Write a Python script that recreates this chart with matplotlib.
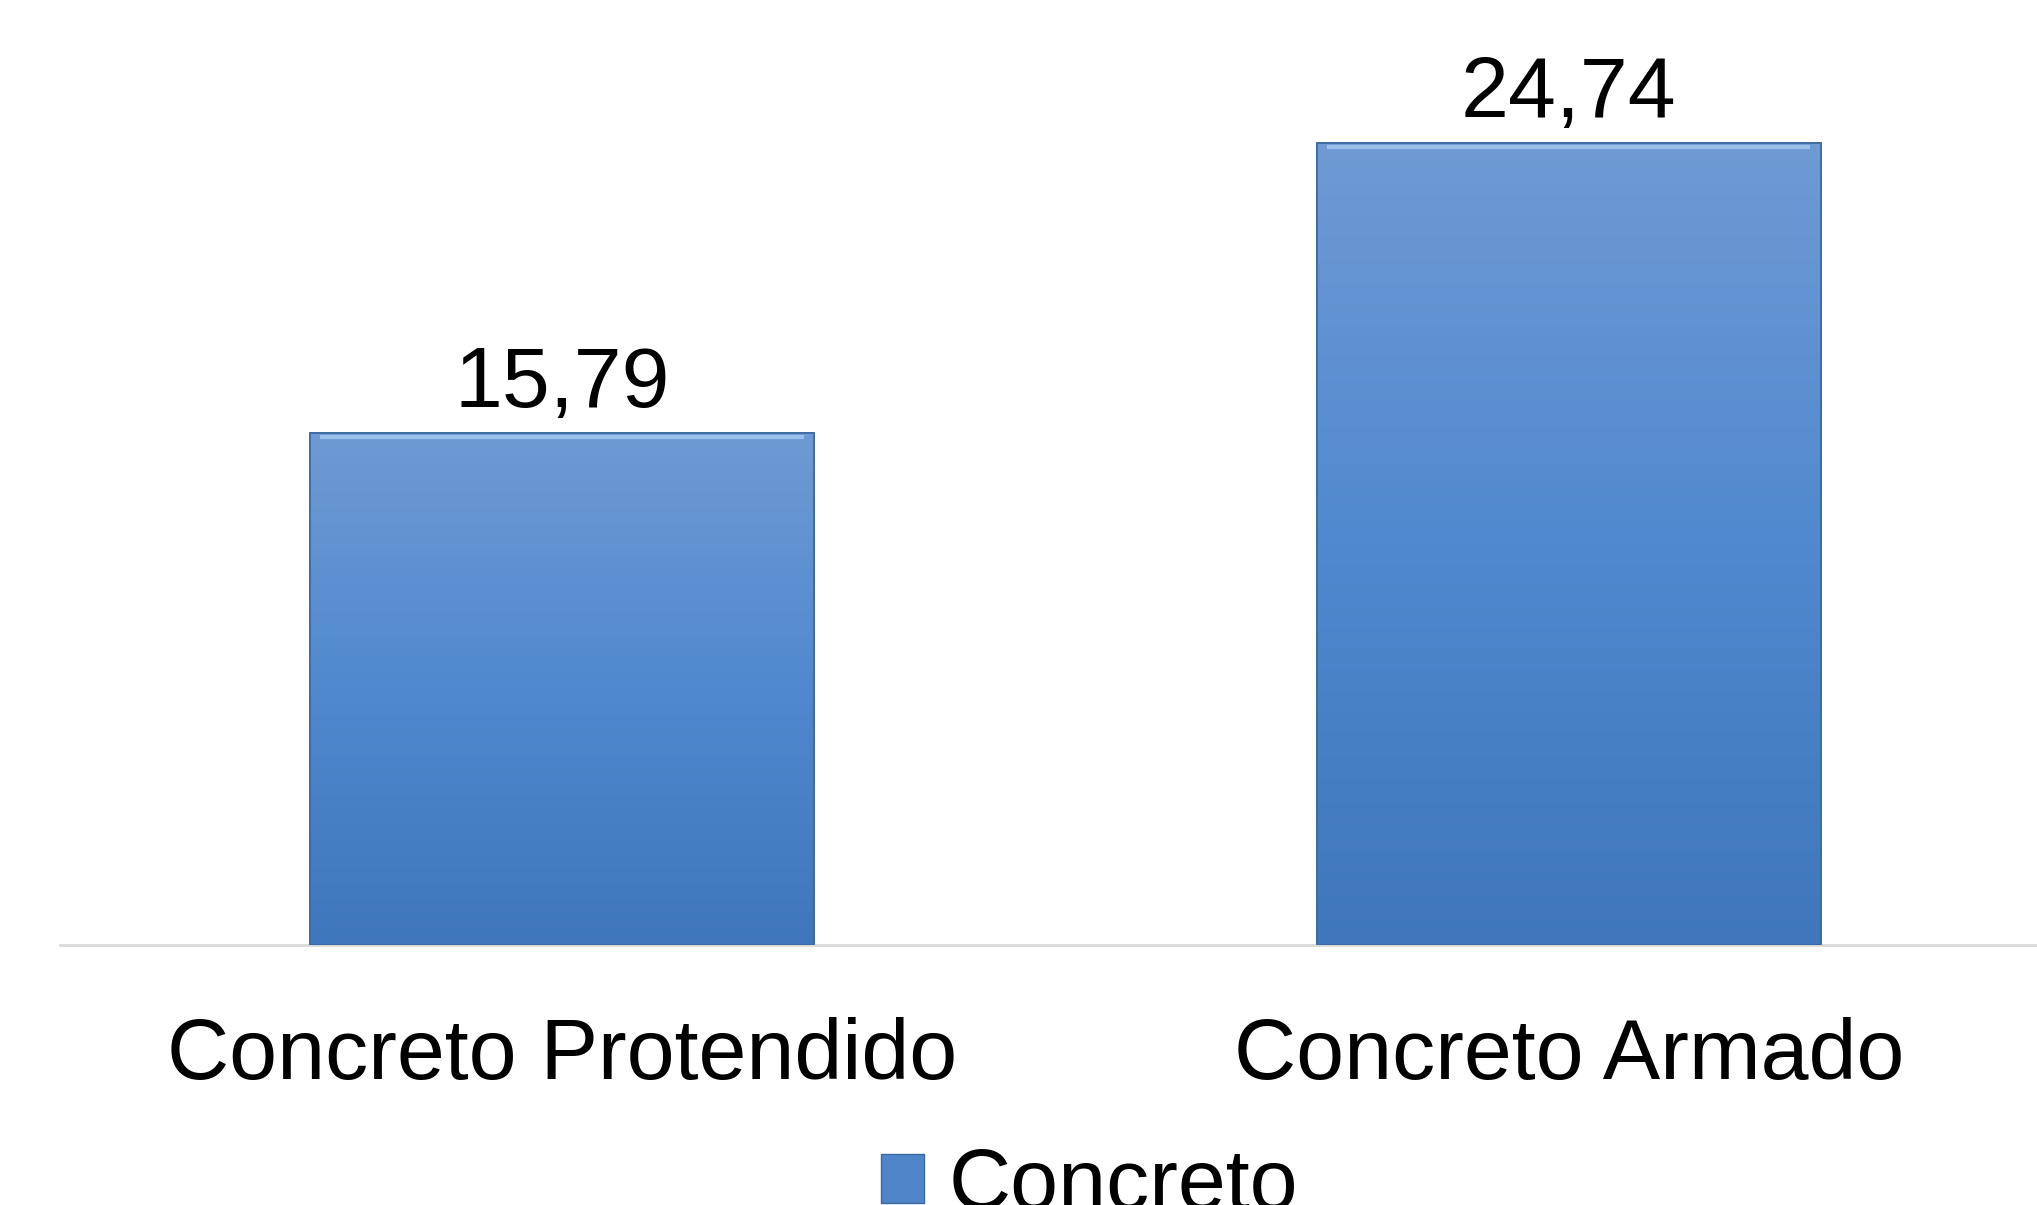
import matplotlib.pyplot as plt
import numpy as np
from matplotlib.patches import Rectangle
from matplotlib.colors import LinearSegmentedColormap

categorias = ['Concreto Protendido', 'Concreto Armado']
valores = [15.79, 24.74]
rotulos = ['15,79', '24,74']
serie = 'Concreto'

plt.rcParams['font.family'] = ['Liberation Sans', 'DejaVu Sans']

fig = plt.figure(figsize=(20.37, 12.05), dpi=100)
ax = fig.add_axes([60/2037, (1205-945)/1205, 1977/2037, 945/1205])

x = np.arange(len(categorias))
barras = ax.bar(x, valores, width=0.5, color='#4F86C9', edgecolor='#3A689F',
                linewidth=1.2, label=serie, zorder=2)

# degradê vertical nas barras
grad = np.linspace(0, 1, 256).reshape(-1, 1)
cmap = LinearSegmentedColormap.from_list('azul', ['#3F76BC', '#5089CF', '#6F9AD4'])
for b in barras:
    x0, w, h = b.get_x(), b.get_width(), b.get_height()
    im = ax.imshow(grad, extent=[x0, x0 + w, 0, h], origin='lower', cmap=cmap,
                   aspect='auto', zorder=3)
    im.set_clip_path(b)
    ax.add_patch(Rectangle((x0, 0), w, h, fill=False, edgecolor='#3A689F',
                           linewidth=1.2, zorder=4))
    ax.plot([x0 + 0.01, x0 + w - 0.01], [h - 0.12, h - 0.12], color='#9CC0EC',
            lw=3, zorder=4, solid_capstyle='butt')

for xi, v, r in zip(x, valores, rotulos):
    ax.text(xi, v + 0.8, r, ha='center', va='baseline', fontsize=62)

ax.set_xlim(-0.4985, 1.465)
ax.set_ylim(0, 945/32.43)
ax.set_xticks(x)
ax.set_xticklabels(categorias, fontsize=62)
ax.tick_params(axis='x', length=0, pad=52)
ax.set_yticks([])
for s in ['top', 'right', 'left']:
    ax.spines[s].set_visible(False)
ax.spines['bottom'].set_color('#D9D9D9')
ax.spines['bottom'].set_linewidth(2)

leg = fig.legend(handles=[Rectangle((0, 0), 1, 1, facecolor='#4F86C9', edgecolor='#3A689F')],
                 labels=[serie], loc='upper center', bbox_to_anchor=(0.535, 0.084),
                 frameon=False, fontsize=62, handlelength=0.5, handleheight=0.5,
                 handletextpad=0.28, borderpad=0)

fig.savefig('out.png', dpi=100)
